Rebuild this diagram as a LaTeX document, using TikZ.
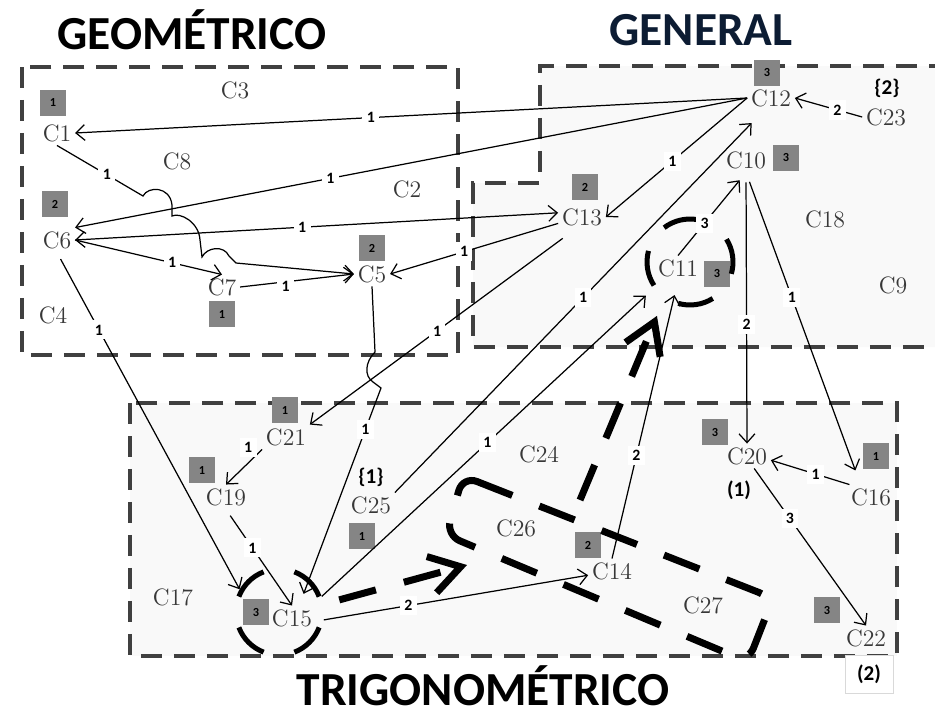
\documentclass[tikz,border=0pt]{standalone}
\usepackage{fontspec}
\newfontfamily\calib{Carlito}
\usetikzlibrary{arrows.meta}

\definecolor{areagray}{HTML}{404040}
\definecolor{wtgray}{HTML}{858585}
\definecolor{panel}{HTML}{F9F9F9}
\definecolor{navy}{HTML}{0C1C33}

\tikzset{
	cn/.style={font=\fontsize{13.5}{15}\selectfont, text=black!78, inner sep=2pt},
	wt/.style={fill=wtgray, minimum size=0.52cm, inner sep=0pt, font=\calib\bfseries\fontsize{7}{8}\selectfont},
	lbl/.style={fill=white, inner sep=2.5pt, font=\calib\bfseries\fontsize{9}{10}\selectfont},
	tag/.style={font=\calib\bfseries\fontsize{12}{14}\selectfont, inner sep=1pt},
	ttl/.style={font=\calib\bfseries\fontsize{27}{30}\selectfont, inner sep=0pt},
	arr/.style={->, line width=0.7pt},
	area/.style={draw=areagray, line width=0.08cm, dash pattern=on 0.42cm off 0.24cm},
	ring/.style={circle, line width=0.1cm, minimum size=1.72cm, inner sep=0pt},
	ringarc/.style={line width=0.1cm},
	bigdash/.style={line width=0.14cm, dash pattern=on 0.76cm off 0.58cm},
	bigarrow/.style={bigdash, -{Straight Barb[length=0.6cm,width=0.75cm]}}
}

\begin{document}
\begin{tikzpicture}[x=0.02cm, y=-0.02cm, >={Straight Barb[length=5pt,width=9pt]}]
	\useasboundingbox (0,0) rectangle (935,717);

	\draw[area, fill=white] (22,67) rectangle (458,355);
	\draw[area, fill=panel] (950,66) -- (540,66) -- (540,183) -- (473,183) -- (473,347) -- (950,347);
	\draw[area, fill=panel] (130,403) rectangle (897,656);

	\node[ttl] (tgeo) at (192,30) {GEOMÉTRICO};
	\node[ttl, text=navy] (tgen) at (701,30) {GENERAL};
	\node[ttl] (ttri) at (483,686) {TRIGONOMÉTRICO};

	\node[cn] (c1) at (57,133) {C1};
	\node[cn] (c2) at (407,189) {C2};
	\node[cn] (c3) at (235,90) {C3};
	\node[cn] (c4) at (53,315) {C4};
	\node[cn] (c5) at (372,274) {C5};
	\node[cn] (c6) at (57,240) {C6};
	\node[cn] (c7) at (222,287) {C7};
	\node[cn] (c8) at (177,161) {C8};
	\node[cn] (c9) at (893,285) {C9};
	\node[cn] (c10) at (746,160) {C10};
	\node[cn] (c11) at (678,268) {C11};
	\node[cn] (c12) at (771,98) {C12};
	\node[cn] (c13) at (582,217) {C13};
	\node[cn] (c14) at (612,571) {C14};
	\node[cn] (c15) at (292,618) {C15};
	\node[cn] (c16) at (871,497) {C16};
	\node[cn] (c17) at (173,597) {C17};
	\node[cn] (c18) at (825,219) {C18};
	\node[cn] (c19) at (226,497) {C19};
	\node[cn] (c20) at (747,456) {C20};
	\node[cn] (c21) at (286,437) {C21};
	\node[cn] (c22) at (866,638) {C22};
	\node[cn] (c23) at (886,117) {C23};
	\node[cn] (c24) at (539,454) {C24};
	\node[cn] (c25) at (371,505) {C25};
	\node[cn] (c26) at (516,528) {C26};
	\node[cn] (c27) at (703,605) {C27};

	\node[tag] (g2) at (887,88) {\{2\}};
	\node[tag] (g1) at (371,477) {\{1\}};
	\node[tag] (p1) at (739,490) {(1)};
	\node[tag, draw=black!15, fill=white, minimum width=0.96cm, minimum height=0.76cm] (p2) at (869,674) {(2)};

	\node[wt] (w1) at (53,103) {1};
	\node[wt] (w6) at (55,204) {2};
	\node[wt] (w7) at (222,314) {1};
	\node[wt] (w5) at (372,248) {2};
	\node[wt] (w12) at (767,73) {3};
	\node[wt] (w10) at (786,158) {3};
	\node[wt] (w13) at (585,187) {2};
	\node[wt] (w11) at (717,274) {3};
	\node[wt] (w21) at (285,410) {1};
	\node[wt] (w19) at (202,470) {1};
	\node[wt] (w25) at (362,536) {1};
	\node[wt] (w15) at (256,612) {3};
	\node[wt] (w14) at (588,545) {2};
	\node[wt] (w20) at (715,432) {3};
	\node[wt] (w16) at (876,456) {1};
	\node[wt] (w22) at (827,610) {3};

	\node[ring] (c15ring) at (279,612) {};
	\node[ring] (c11ring) at (690,262) {};
	\foreach \a in {45,135,225,315}
		\draw[ringarc] ([shift={(\a-24:0.86cm)}]c15ring.center) arc (\a-24:\a+24:0.86cm);
	\foreach \a in {8,103,189,278}
		\draw[ringarc] ([shift={(\a-24:0.86cm)}]c11ring.center) arc (\a-24:\a+24:0.86cm);
	\draw[bigdash, rounded corners=0.3cm] (463,476) -- (773,598) -- (748,662) -- (446,535) -- cycle;
	\coordinate (c26a) at (467,565);
	\coordinate (c26b) at (580,500);
	\draw[bigarrow, dash phase=1.02cm] (c15ring.10) -- (c26a);
	\draw[bigarrow, shorten >=0.36cm] (c26b) -- (c11ring.235);

	\draw[arr] (c12.west) -- node[lbl,pos=0.56] (e1) {1} (c1.east);
	\draw[arr] (c12.west) -- node[lbl,pos=0.62] (e2) {1} (c6.north east);
	\draw[arr] (c12.west) -- node[lbl,pos=0.53] (e3) {1} (c13.east);
	\draw[arr] (c23.west) -- node[lbl,pos=0.37] (e4) {2} (c12.east);
	\draw[arr,<->] (c6.east) -- node[lbl,pos=0.47] (e5) {1} (c13.170);
	\draw[arr] (c6.east) -- node[lbl,pos=0.66] (e6) {1} (c7.north);
	\draw[arr] (c1.south) -- node[lbl,pos=0.58] (e7) {1} (143,196)
		.. controls (148,186) and (170,186) .. (172,205) -- (172,216)
		.. controls (180,212) and (199,222) .. (200,240) -- (202,257)
		.. controls (207,247) and (224,245) .. (229,256) -- (236,263) -- (c5.west);
	\draw[arr] (c7.east) -- node[lbl,pos=0.4,yshift=-0.1cm] (e8) {1} (c5.west);
	\draw[arr] (c13.195) -- node[lbl,pos=0.56] (e9) {1} (c5.east);
	\draw[arr, shorten <=0.3cm] (c13.-120) -- node[lbl,pos=0.52] (e10) {1} (c21.north east);
	\draw[arr, shorten >=0.25cm] (c5.south) -- (375,352) .. controls (365,362) and (364,376) .. (373,382) -- (381,388)
		-- node[lbl,pos=0.19] (e11) {1} (c15.60);
	\draw[arr, shorten <=0.15cm] (c6.south) -- node[lbl,pos=0.23] (e12) {1} (c15ring.150);
	\draw[arr] (c21.south west) -- node[lbl,pos=0.25,xshift=-0.1cm,yshift=0.22cm] (e13) {1} (c19.north);
	\draw[arr, shorten <=0.15cm] (c19.south) -- node[lbl,pos=0.4] (e14) {1} (c15.north);
	\draw[arr, shorten >=0.35cm] (c25.north east) -- node[lbl,pos=0.51] (e15) {1} (c12.-120);
	\draw[arr, shorten >=0.2cm] (c15ring.20) -- node[lbl,pos=0.5] (e16) {1} (c11ring.216);
	\draw[arr] (c15ring.-10) -- node[lbl,pos=0.32] (e17) {2} (c14.190);
	\draw[arr, shorten >=0.3cm] (c14.north) -- node[lbl,pos=0.37] (e18) {2} (c11.south);
	\draw[arr, shorten >=0.2cm] (c11.north) -- node[lbl,pos=0.39] (e19) {3} (c10.south);
	\draw[arr, shorten <=0.2cm] (c10.south) -- node[lbl,pos=0.56] (e20) {2} (c20.north);
	\draw[arr, shorten <=0.2cm, shorten >=0.3cm] (c10.south) -- node[lbl,pos=0.4] (e21) {1} (c16.130);
	\draw[arr] (c16.150) -- node[lbl,pos=0.43] (e22) {1} (c20.-10);
	\draw[arr] (c20.-60) -- node[lbl,pos=0.32] (e23) {3} (c22.north);
\end{tikzpicture}
\end{document}
